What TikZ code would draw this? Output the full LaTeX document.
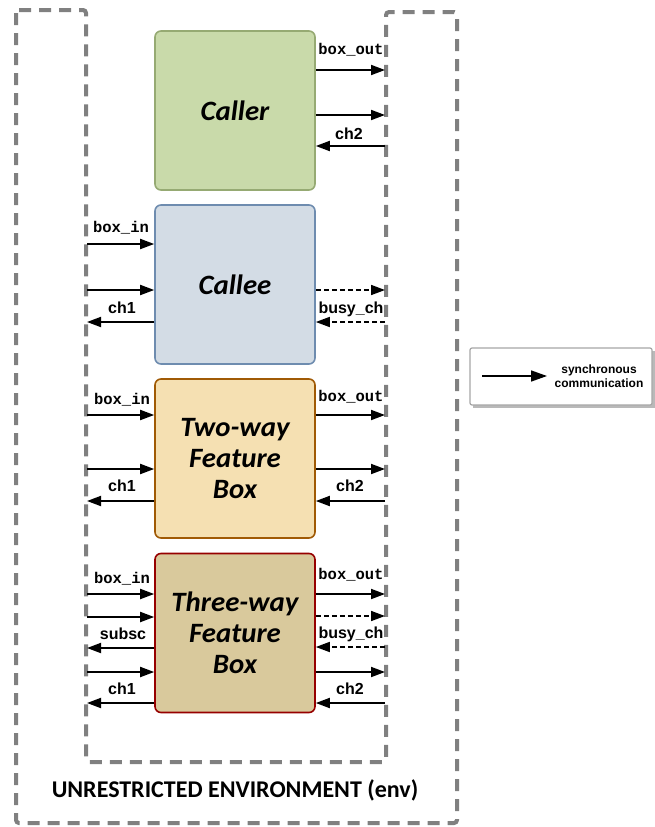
\documentclass[tikz,border=0pt]{standalone}
\usepackage{fontspec}
\setmainfont{Liberation Sans}
\newfontfamily\monob{Liberation Mono}
\newfontfamily\ttlfont{Carlito}[FakeStretch=1.03]
\newfontfamily\envfont{Carlito}
\usetikzlibrary{arrows.meta}
\definecolor{callerfill}{RGB}{201,218,170}
\definecolor{callerdraw}{RGB}{150,170,115}
\definecolor{calleefill}{RGB}{211,220,229}
\definecolor{calleedraw}{RGB}{110,140,175}
\definecolor{twofill}{RGB}{245,224,178}
\definecolor{twodraw}{RGB}{160,90,5}
\definecolor{threefill}{RGB}{217,201,156}
\definecolor{threedraw}{RGB}{150,0,0}
\definecolor{envgray}{RGB}{128,128,128}
\tikzset{
  featbox/.style={draw, line width=1.6pt, rounded corners=6pt, minimum width=160pt, minimum height=159pt, inner sep=0pt, align=center, font=\ttlfont\bfseries\itshape\fontsize{28}{31}\selectfont},
  sig/.style={-{Triangle[length=14pt,width=10pt]}, line width=1.8pt, black},
  dsig/.style={-{Triangle[length=14pt,width=10pt]}, line width=1.6pt, black, dash pattern=on 5pt off 3pt},
  lblm/.style={anchor=base, inner sep=0pt, font=\monob\bfseries\fontsize{15.5}{17}\selectfont},
  lbls/.style={anchor=base, inner sep=0pt, font=\bfseries\fontsize{16}{18}\selectfont},
  envline/.style={draw=envgray, line width=4pt, dash pattern=on 12pt off 8pt, rounded corners=3pt},
}
\begin{document}
\begin{tikzpicture}[x=1pt,y=-1pt]
\useasboundingbox (0,0) rectangle (655,827);
% environment outline
\draw[envline] (16,10) -- (86,10) -- (86,762) -- (386,762) -- (386,12) -- (457,12) -- (457,823) -- (16,823) -- cycle;
\node[inner sep=0pt, font=\envfont\bfseries\fontsize{24}{27}\selectfont] (envlbl) at (235,790) {UNRESTRICTED ENVIRONMENT (env)};

% boxes
\node[featbox, fill=callerfill, draw=callerdraw] (caller) at (235,110.5) {Caller};
\node[featbox, fill=calleefill, draw=calleedraw] (callee) at (235,284.5) {Callee};
\node[featbox, fill=twofill, draw=twodraw] (two) at (235,458.5) {Two-way\\Feature\\Box};
\node[featbox, fill=threefill, draw=threedraw] (three) at (235,633) {Three-way\\Feature\\Box};

% free ends on the environment lines
\foreach \n/\y in {a/70,b/115,c/146,d/290,e/322,f/415,g/469,h/501,i/594,j/616,k/647,l/672,m/703}
  \coordinate (R\n) at (385,\y);
\foreach \n/\y in {a/244,b/290,c/322,d/415,e/469,f/501,g/594,h/617,i/648,j/672,k/703}
  \coordinate (L\n) at (87,\y);

% Caller
\draw[sig] (caller.east |- Ra) -- (Ra);
\draw[sig] (caller.east |- Rb) -- (Rb);
\draw[sig] (Rc) -- (caller.east |- Rc);
\node[lblm] (c1) at (351,54) {box\_out};
\node[lbls] (c2) at (349,139) {ch2};

% Callee
\draw[sig] (La) -- (callee.west |- La);
\draw[sig] (Lb) -- (callee.west |- Lb);
\draw[sig] (callee.west |- Lc) -- (Lc);
\draw[dsig] (callee.east |- Rd) -- (Rd);
\draw[dsig] (Re) -- (callee.east |- Re);
\node[lblm] (e1) at (121,232) {box\_in};
\node[lbls] (e2) at (122,313) {ch1};
\node[lbls] (e3) at (351,313) {busy\_ch};

% Two-way
\draw[sig] (Ld) -- (two.west |- Ld);
\draw[sig] (Le) -- (two.west |- Le);
\draw[sig] (two.west |- Lf) -- (Lf);
\draw[sig] (two.east |- Rf) -- (Rf);
\draw[sig] (two.east |- Rg) -- (Rg);
\draw[sig] (Rh) -- (two.east |- Rh);
\node[lblm] (t1) at (122,404) {box\_in};
\node[lbls] (t2) at (122,491) {ch1};
\node[lblm] (t3) at (351,401) {box\_out};
\node[lbls] (t4) at (350,491) {ch2};

% Three-way
\draw[sig] (Lg) -- (three.west |- Lg);
\draw[sig] (Lh) -- (three.west |- Lh);
\draw[sig] (three.west |- Li) -- (Li);
\draw[sig] (Lj) -- (three.west |- Lj);
\draw[sig] (three.west |- Lk) -- (Lk);
\draw[sig] (three.east |- Ri) -- (Ri);
\draw[dsig] (three.east |- Rj) -- (Rj);
\draw[dsig] (Rk) -- (three.east |- Rk);
\draw[sig] (three.east |- Rl) -- (Rl);
\draw[sig] (Rm) -- (three.east |- Rm);
\node[lblm] (h1) at (122,583) {box\_in};
\node[lbls] (h2) at (123,639) {subsc};
\node[lbls] (h3) at (122,694) {ch1};
\node[lblm] (h4) at (351,579) {box\_out};
\node[lbls] (h5) at (351,638) {busy\_ch};
\node[lbls] (h6) at (350,694) {ch2};

% legend
\fill[gray!55] (473,351) rectangle (655,408);
\node[draw=gray!70, fill=white, line width=1.2pt, rounded corners=2pt, minimum width=182pt, minimum height=57pt, inner sep=0pt] (leg) at (561,376.5) {};
\coordinate (legA) at (482,376);
\coordinate (legB) at (547,376);
\draw[-{Triangle[length=16pt,width=11pt]}, line width=1.5pt] (legA) -- (legB);
\node[align=center, inner sep=0pt, font=\bfseries\fontsize{12}{14}\selectfont] (legtxt) at (599,376) {synchronous\\communication};
\end{tikzpicture}
\end{document}
